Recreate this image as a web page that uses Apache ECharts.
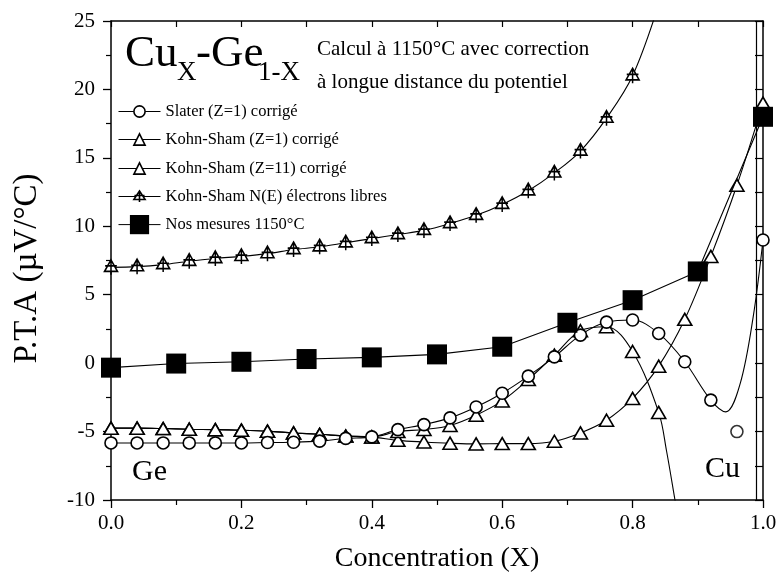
<!DOCTYPE html>
<html><head><meta charset="utf-8">
<script src="https://cdn.jsdelivr.net/npm/echarts@6/dist/echarts.min.js"></script>
<style>html,body{margin:0;padding:0;background:#fff}#c{width:780px;height:586px}</style>
</head><body><div id="c"></div>
<script>
const FONT = '"Liberation Serif","Times New Roman",serif';

// ---- Data ----
// Kohn-Sham N(E) électrons libres
const neX = [0,0.04,0.08,0.12,0.16,0.20,0.24,0.28,0.32,0.36,0.40,0.44,0.48,0.52,0.56,0.60,0.64,0.68,0.72,0.76,0.80];
const neY = [7.0,7.05,7.2,7.45,7.65,7.8,8.0,8.3,8.5,8.8,9.1,9.4,9.7,10.2,10.8,11.6,12.6,13.9,15.5,17.9,21.0];
const neCurveX = [0.84];          // fitted curve continues past the last marker
const neCurveY = [26.2];

// Slater (Z=1) corrigé
const slX = [0,0.04,0.08,0.12,0.16,0.20,0.24,0.28,0.32,0.36,0.40,0.44,0.48,0.52,0.56,0.60,0.64,0.68,0.72,0.76,0.80,0.84,0.88,0.92];
const slY = [-5.83,-5.83,-5.83,-5.83,-5.83,-5.83,-5.8,-5.78,-5.7,-5.5,-5.39,-4.86,-4.49,-4.0,-3.2,-2.2,-0.95,0.46,2.05,3.0,3.15,2.17,0.1,-2.7];
const slCurveX = [0.943,0.965,0.985];
const slCurveY = [-3.56,-1.5,3.4];
const slEndX = [1.0];
const slEndY = [9.0];
const slOutX = [0.96];
const slOutY = [-5.0];

// Kohn-Sham (Z=1) corrigé
const ks1X = [0,0.04,0.08,0.12,0.16,0.20,0.24,0.28,0.32,0.36,0.40,0.44,0.48,0.52,0.56,0.60,0.64,0.68,0.72,0.76,0.80,0.84];
const ks1Y = [-4.75,-4.75,-4.78,-4.83,-4.86,-4.9,-4.97,-5.1,-5.2,-5.33,-5.39,-5.0,-4.85,-4.55,-3.8,-2.76,-1.2,0.58,2.37,2.66,0.85,-3.6];
const ks1CurveX = [0.852,0.865,0.875];
const ks1CurveY = [-6.4,-10.0,-12.8];

// Kohn-Sham (Z=11) corrigé
const ks11X = [0,0.04,0.08,0.12,0.16,0.20,0.24,0.28,0.32,0.36,0.40,0.44,0.48,0.52,0.56,0.60,0.64,0.68,0.72,0.76,0.80,0.84,0.88,0.92,0.96,1.0];
const ks11Y = [-4.75,-4.75,-4.78,-4.83,-4.86,-4.9,-4.97,-5.1,-5.2,-5.33,-5.39,-5.64,-5.76,-5.85,-5.9,-5.88,-5.88,-5.71,-5.1,-4.17,-2.58,-0.22,3.2,7.8,13.0,19.0];

// Nos mesures 1150°C
const mesX = [0,0.1,0.2,0.3,0.4,0.5,0.6,0.7,0.8,0.9,1.0];
const mesY = [-0.33,-0.03,0.1,0.3,0.42,0.64,1.2,2.95,4.6,6.7,18.0];

// thin vertical line near pure Cu
const vLineX = 0.987;

const names = ['Slater (Z=1) corrigé','Kohn-Sham (Z=1) corrigé','Kohn-Sham (Z=11) corrigé','Kohn-Sham N(E) électrons libres','Nos mesures 1150°C'];

const pts = (xs, ys) => xs.map((x, i) => [x, ys[i]]);
const hid = (xs, ys) => xs.map((x, i) => ({ value: [x, ys[i]], symbol: 'none' }));

const NE_SYMBOL = 'path://M10 0 L20 17 L0 17 Z M10 0 L10 22 M1 9 L19 9';
const openStyle = { color: '#fff', borderColor: '#000', borderWidth: 1.6 };
const lineSt = { color: '#000', width: 1.1 };

const chart = echarts.init(document.getElementById('c'), null, { renderer: 'canvas' });

function legendFor(name, top, h, itemStyle) {
  return {
    data: [name], left: 118, top: top, padding: 0, itemWidth: 42, itemHeight: h, itemGap: 0,
    selectedMode: false,
    textStyle: { fontFamily: FONT, fontSize: 16.5, color: '#000' },
    itemStyle: itemStyle, lineStyle: { color: '#000', width: 1 }
  };
}

const axisFont = { fontFamily: FONT, fontSize: 21, color: '#000' };

chart.setOption({
  animation: false,
  backgroundColor: '#fff',
  grid: { left: 111, right: 17, top: 21, bottom: 86, containLabel: false },
  xAxis: [
    { type: 'value', min: 0, max: 1, interval: 0.2, position: 'bottom',
      axisLine: { show: true, onZero: false, lineStyle: { color: '#000', width: 1.5 } },
      axisTick: { show: true, inside: false, length: 8, lineStyle: { color: '#000', width: 1.3 } },
      minorTick: { show: true, splitNumber: 2, length: 5, lineStyle: { color: '#000', width: 1.2 } },
      splitLine: { show: false },
      axisLabel: { margin: 13, formatter: v => v.toFixed(1), ...axisFont },
      name: 'Concentration (X)', nameLocation: 'middle', nameGap: 45,
      nameTextStyle: { fontFamily: FONT, fontSize: 28, color: '#000' } },
    { type: 'value', min: 0, max: 1, interval: 0.2, position: 'top',
      axisLine: { show: true, onZero: false, lineStyle: { color: '#000', width: 1.5 } },
      axisTick: { show: true, inside: true, length: 6, lineStyle: { color: '#000', width: 1.2 } },
      minorTick: { show: true, splitNumber: 2, length: 6, lineStyle: { color: '#000', width: 1.2 } },
      splitLine: { show: false }, axisLabel: { show: false } }
  ],
  yAxis: [
    { type: 'value', min: -10, max: 25, interval: 5, position: 'left',
      axisLine: { show: true, onZero: false, lineStyle: { color: '#000', width: 1.5 } },
      axisTick: { show: true, inside: false, length: 8, lineStyle: { color: '#000', width: 1.3 } },
      minorTick: { show: true, splitNumber: 2, length: 5, lineStyle: { color: '#000', width: 1.2 } },
      splitLine: { show: false },
      axisLabel: { margin: 16, ...axisFont },
      name: 'P.T.A (µV/°C)', nameLocation: 'middle', nameGap: 67,
      nameTextStyle: { fontFamily: FONT, fontSize: 33, color: '#000', padding: [0, 16, 0, 0] } },
    { type: 'value', min: -10, max: 25, interval: 5, position: 'right',
      axisLine: { show: true, onZero: false, lineStyle: { color: '#000', width: 1.5 } },
      axisTick: { show: true, inside: true, length: 8, lineStyle: { color: '#000', width: 1.2 } },
      minorTick: { show: true, splitNumber: 2, length: 8, lineStyle: { color: '#000', width: 1.2 } },
      splitLine: { show: false }, axisLabel: { show: false } }
  ],
  legend: [
    legendFor(names[0], 103, 14, openStyle),
    legendFor(names[1], 131, 14, openStyle),
    legendFor(names[2], 160, 14, openStyle),
    legendFor(names[3], 188, 14, openStyle),
    legendFor(names[4], 215, 24, { color: '#000', borderColor: '#000', borderWidth: 0 })
  ],
  graphic: [
    { type: 'text', x: 125, y: 77, style: { text: 'Cu', font: '45px ' + FONT, fill: '#000', align: 'left', verticalAlign: 'bottom' } },
    { type: 'text', x: 177, y: 86, style: { text: 'X', font: '27px ' + FONT, fill: '#000', align: 'left', verticalAlign: 'bottom' } },
    { type: 'text', x: 196, y: 77, style: { text: '-Ge', font: '45px ' + FONT, fill: '#000', align: 'left', verticalAlign: 'bottom' } },
    { type: 'text', x: 258, y: 86, style: { text: '1-X', font: '27px ' + FONT, fill: '#000', align: 'left', verticalAlign: 'bottom' } },
    { type: 'text', x: 317, y: 60, style: { text: 'Calcul à 1150°C avec correction', font: '21px ' + FONT, fill: '#000', align: 'left', verticalAlign: 'bottom' } },
    { type: 'text', x: 317, y: 93, style: { text: 'à longue distance du potentiel', font: '21px ' + FONT, fill: '#000', align: 'left', verticalAlign: 'bottom' } },
    { type: 'text', x: 132, y: 487, style: { text: 'Ge', font: '30px ' + FONT, fill: '#000', align: 'left', verticalAlign: 'bottom' } },
    { type: 'text', x: 705, y: 484, style: { text: 'Cu', font: '30px ' + FONT, fill: '#000', align: 'left', verticalAlign: 'bottom' } }
  ],
  series: [
    { name: names[3], type: 'line', smooth: 0.35, clip: true,
      data: [...pts(neX, neY), ...hid(neCurveX, neCurveY)],
      symbol: NE_SYMBOL, symbolSize: [13, 15], itemStyle: openStyle, lineStyle: lineSt, z: 3 },
    { name: names[2], type: 'line', smooth: 0.35, clip: true,
      data: pts(ks11X, ks11Y),
      symbol: 'triangle', symbolSize: [14, 12], itemStyle: openStyle, lineStyle: lineSt, z: 3 },
    { name: names[1], type: 'line', smooth: 0.35, clip: true,
      data: [...pts(ks1X, ks1Y), ...hid(ks1CurveX, ks1CurveY)],
      symbol: 'triangle', symbolSize: [14, 12], itemStyle: openStyle, lineStyle: lineSt, z: 4 },
    { name: names[0], type: 'line', smooth: 0.35, clip: true,
      data: [...pts(slX, slY), ...hid(slCurveX, slCurveY), ...pts(slEndX, slEndY)],
      symbol: 'circle', symbolSize: 12, itemStyle: openStyle, lineStyle: lineSt, z: 5 },
    { name: names[0], type: 'scatter', clip: true,
      data: pts(slOutX, slOutY),
      symbol: 'circle', symbolSize: 12, itemStyle: openStyle, z: 5 },
    { name: names[4], type: 'line', smooth: false, clip: true,
      data: pts(mesX, mesY),
      symbol: 'rect', symbolSize: 20, itemStyle: { color: '#000' }, lineStyle: lineSt, z: 6,
      markLine: { silent: true, symbol: 'none', label: { show: false }, z: 2,
        lineStyle: { color: '#000', width: 1.2, type: 'solid' },
        data: [{ xAxis: vLineX }] } }
  ]
});
</script></body></html>
